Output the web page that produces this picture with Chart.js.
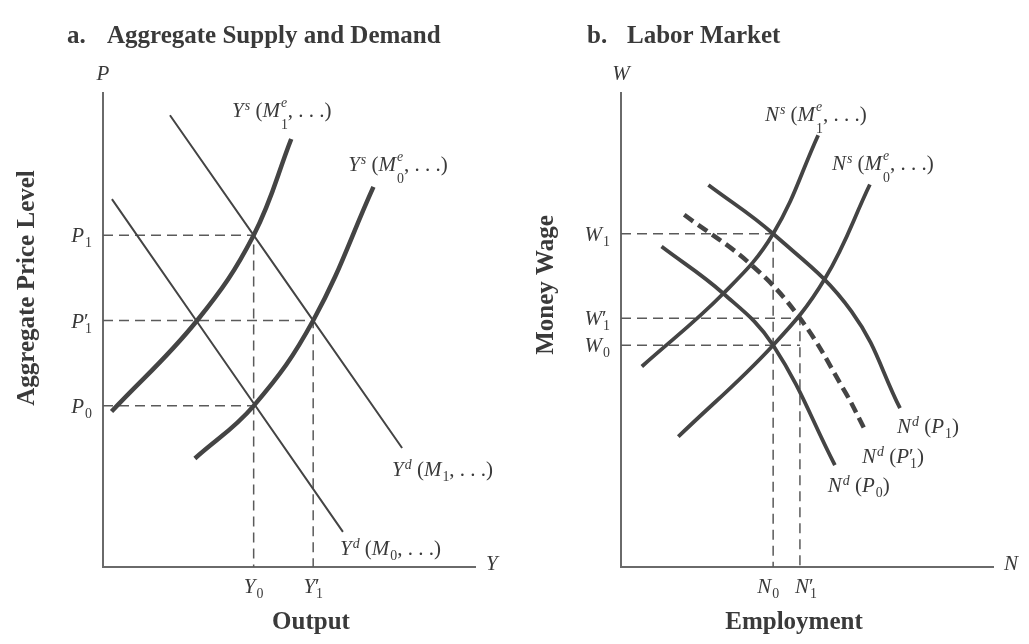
<!DOCTYPE html>
<html>
<head>
<meta charset="utf-8">
<script src="https://cdn.jsdelivr.net/npm/chart.js@4"></script>
<style>
  html, body { margin: 0; padding: 0; background: #fff; }
  #wrap { position: relative; width: 1029px; height: 644px; }
  canvas { position: absolute; top: 0; }
  #asd { left: 0; }
  #labor { left: 515px; }
</style>
</head>
<body>
<div id="wrap">
  <canvas id="asd" width="515" height="644"></canvas>
  <canvas id="labor" width="514" height="644"></canvas>
</div>
<script>
// ---- panel a: aggregate supply and demand (both axes run 0..10) ----
const outputTicks = [4.05, 5.65];
const outputTickLabels = ['Y_0', 'Y^′_1'];
const priceTicks = [7.0, 5.2, 3.4];
const priceTickLabels = ['P_1', 'P^′_1', 'P_0'];

const supplyM1 = [[0.23, 3.28], [2.53, 5.2], [4.05, 7.0], [5.06, 9.03]];
const supplyM0 = [[2.47, 2.29], [4.05, 3.4], [5.65, 5.2], [7.27, 8.02]];
const demandM1 = [[1.8, 9.53], [8.04, 2.51]];
const demandM0 = [[0.24, 7.76], [6.45, 0.74]];

// ---- panel b: labor market ----
const employmentTicks = [4.09, 4.81];
const employmentTickLabels = ['N_0', 'N^′_1'];
const wageTicks = [7.03, 5.25, 4.68];
const wageTickLabels = ['W_1', 'W^′_1', 'W_0'];

const laborSupplyM1 = [[0.56, 4.23], [2.75, 5.77], [4.09, 7.03], [5.30, 9.11]];
const laborSupplyM0 = [[1.54, 2.75], [4.09, 4.68], [5.48, 6.08], [6.69, 8.07]];
const laborDemandP1 = [[2.35, 8.06], [4.09, 7.03], [6.20, 5.39], [7.50, 3.35]];
const laborDemandP1b = [[1.70, 7.43], [3.51, 6.37], [4.81, 5.25], [6.02, 3.70], [6.56, 2.89]];
const laborDemandP0 = [[1.09, 6.76], [2.75, 5.77], [4.09, 4.68], [5.75, 2.15]];

const SERIF = '"Liberation Serif", "Times New Roman", serif';
const INK = '#3a3a3a';
const LINE = '#444';
const GUIDE = '#5a5a5a';

// --- small rich-text renderer: "_x" subscript, "^x" superscript, {..} groups ---
function parseRich(str) {
  const items = [];
  const re = /([_^])(\{[^}]*\}|.)|([^_^]+)/gu;
  let m;
  while ((m = re.exec(str))) {
    if (m[3]) { for (const ch of m[3]) items.push({ base: ch }); continue; }
    const kind = m[1] === '_' ? 'lo' : 'hi';
    const t = m[2].startsWith('{') ? m[2].slice(1, -1) : m[2];
    const last = items[items.length - 1];
    if (last && last.stack && !last[kind]) last[kind] = t;
    else items.push({ stack: true, [kind]: t });
  }
  return items;
}
function fontFor(ch, px) {
  return (/[A-Za-z]/.test(ch) ? 'italic ' : '') + px + 'px ' + SERIF;
}
function runWidth(ctx, s, px) {
  let w = 0;
  for (const ch of s) { ctx.font = fontFor(ch, px); w += ctx.measureText(ch).width; }
  return w;
}
function drawRun(ctx, s, x, y, px) {
  for (const ch of s) { ctx.font = fontFor(ch, px); ctx.fillText(ch, x, y); x += ctx.measureText(ch).width; }
  return x;
}
function richWidth(ctx, items, size) {
  const small = size * 0.66;
  let w = 0;
  for (const it of items) {
    if (it.base !== undefined) { w += runWidth(ctx, it.base, size); continue; }
    const hiW = it.hi ? runWidth(ctx, it.hi, it.hi === '′' ? size : small) : 0;
    const loW = it.lo ? runWidth(ctx, it.lo, small) : 0;
    w += Math.max(hiW, loW) + 1;
  }
  return w;
}
function drawRich(ctx, str, x, y, size, align) {
  const items = parseRich(str);
  const w = richWidth(ctx, items, size);
  if (align === 'center') x -= w / 2;
  else if (align === 'right') x -= w;
  ctx.textAlign = 'left';
  ctx.textBaseline = 'alphabetic';
  const small = size * 0.66;
  for (const it of items) {
    if (it.base !== undefined) { x = drawRun(ctx, it.base, x, y, size); continue; }
    x += 1;
    const both = it.hi && it.lo;
    let adv = 0;
    if (it.hi) {
      const end = it.hi === '′'
        ? drawRun(ctx, it.hi, x - 1, y, size)
        : drawRun(ctx, it.hi, x, y - size * (both ? 0.48 : 0.32), small);
      adv = Math.max(adv, end - x);
    }
    if (it.lo) {
      const end = drawRun(ctx, it.lo, x, y + size * (both && it.hi !== '′' ? 0.58 : 0.25), small);
      adv = Math.max(adv, end - x);
    }
    x += adv;
  }
}

// text pass for one panel; ticks and curve labels are placed through the scales
function panelText(spec) {
  return {
    id: 'panelText',
    afterDraw(chart) {
      const ctx = chart.ctx;
      const xs = chart.scales.x, ys = chart.scales.y;
      const area = chart.chartArea;
      ctx.save();
      ctx.fillStyle = INK;
      ctx.textBaseline = 'alphabetic';

      // heading
      ctx.font = 'bold 25px ' + SERIF;
      ctx.textAlign = 'left';
      ctx.fillText(spec.letter, spec.letterX, 43);
      ctx.fillText(spec.title, spec.titleX, 43);

      // axis titles
      ctx.textAlign = 'center';
      ctx.fillText(spec.xTitle, spec.xTitleX, 629);
      ctx.save();
      ctx.translate(spec.yTitleX, spec.yTitleY);
      ctx.rotate(-Math.PI / 2);
      ctx.fillText(spec.yTitle, 0, 0);
      ctx.restore();

      // axis variable letters
      drawRich(ctx, spec.yVar, area.left, 80, 21, 'center');
      drawRich(ctx, spec.xVar, area.right + 11, area.bottom + 3, 21, 'left');

      // tick labels
      spec.yTicks.forEach((v, i) => {
        drawRich(ctx, spec.yTickLabels[i], area.left - 11, ys.getPixelForValue(v) + 7, 21, 'right');
      });
      spec.xTicks.forEach((v, i) => {
        const off = spec.xTickShift ? spec.xTickShift[i] : 0;
        drawRich(ctx, spec.xTickLabels[i], xs.getPixelForValue(v) + off, area.bottom + 26, 21, 'center');
      });

      // curve labels
      spec.curveLabels.forEach(l => {
        drawRich(ctx, l.text, xs.getPixelForValue(l.x), ys.getPixelForValue(l.y), 21, 'left');
      });
      ctx.restore();
    }
  };
}

const pts = arr => arr.map(([x, y]) => ({ x, y }));

function curve(data, width, dash) {
  return {
    data: pts(data), showLine: true, borderColor: LINE, borderWidth: width,
    borderDash: dash || [], pointRadius: 0, tension: 0.4,
    borderCapStyle: 'butt', borderJoinStyle: 'round', fill: false
  };
}
function guide(data) {
  return {
    data: pts(data), showLine: true, borderColor: GUIDE, borderWidth: 1.5,
    borderDash: [10, 6], pointRadius: 0, tension: 0, fill: false
  };
}

function axes() {
  const axis = {
    type: 'linear', min: 0, max: 10,
    grid: { display: false, drawTicks: false },
    ticks: { display: false },
    border: { display: true, color: '#6a6a6a', width: 2 }
  };
  return { x: { ...axis, position: 'bottom' }, y: { ...axis, position: 'left' } };
}

function makeChart(id, datasets, padding, spec) {
  return new Chart(document.getElementById(id), {
    type: 'scatter',
    data: { datasets },
    options: {
      responsive: false,
      animation: false,
      layout: { padding },
      scales: axes(),
      plugins: { legend: { display: false }, tooltip: { enabled: false } }
    },
    plugins: [panelText(spec)]
  });
}

// panel a
makeChart('asd', [
  curve(supplyM1, 4.5),
  curve(supplyM0, 4.5),
  curve(demandM1, 2),
  curve(demandM0, 2),
  guide([[0, priceTicks[0]], [outputTicks[0], priceTicks[0]], [outputTicks[0], 0]]),
  guide([[0, priceTicks[1]], [outputTicks[1], priceTicks[1]], [outputTicks[1], 0]]),
  guide([[0, priceTicks[2]], [outputTicks[0], priceTicks[2]]])
], { left: 103, right: 40, top: 93, bottom: 77 }, {
  letter: 'a.', letterX: 67, title: 'Aggregate Supply and Demand', titleX: 107,
  xTitle: 'Output', xTitleX: 311,
  yTitle: 'Aggregate Price Level', yTitleX: 34, yTitleY: 288,
  yVar: 'P', xVar: 'Y',
  yTicks: priceTicks, yTickLabels: priceTickLabels,
  xTicks: outputTicks, xTickLabels: outputTickLabels,
  curveLabels: [
    { text: 'Y^s (M_1^e, . . .)', x: 3.47, y: 9.49 },
    { text: 'Y^s (M_0^e, . . .)', x: 6.59, y: 8.35 },
    { text: 'Y^d (M_1, . . .)', x: 7.77, y: 1.92 },
    { text: 'Y^d (M_0, . . .)', x: 6.37, y: 0.25 }
  ]
});

// panel b
makeChart('labor', [
  curve(laborSupplyM1, 3.8),
  curve(laborSupplyM0, 3.8),
  curve(laborDemandP1, 3.8),
  curve(laborDemandP1b, 4.5, [11, 6]),
  curve(laborDemandP0, 3.8),
  guide([[0, wageTicks[0]], [employmentTicks[0], wageTicks[0]], [employmentTicks[0], 0]]),
  guide([[0, wageTicks[1]], [employmentTicks[1], wageTicks[1]], [employmentTicks[1], 0]]),
  guide([[0, wageTicks[2]], [employmentTicks[1], wageTicks[2]]])
], { left: 106, right: 36, top: 93, bottom: 77 }, {
  letter: 'b.', letterX: 72, title: 'Labor Market', titleX: 112,
  xTitle: 'Employment', xTitleX: 279,
  yTitle: 'Money Wage', yTitleX: 38, yTitleY: 285,
  yVar: 'W', xVar: 'N',
  yTicks: wageTicks, yTickLabels: wageTickLabels,
  xTicks: employmentTicks, xTickLabels: employmentTickLabels, xTickShift: [-5, 6],
  curveLabels: [
    { text: 'N^s (M_1^e, . . .)', x: 3.87, y: 9.41 },
    { text: 'N^s (M_0^e, . . .)', x: 5.67, y: 8.38 },
    { text: 'N^d (P_1)', x: 7.42, y: 2.83 },
    { text: 'N^d (P^′_1)', x: 6.48, y: 2.19 },
    { text: 'N^d (P_0)', x: 5.56, y: 1.58 }
  ]
});
</script>
</body>
</html>
